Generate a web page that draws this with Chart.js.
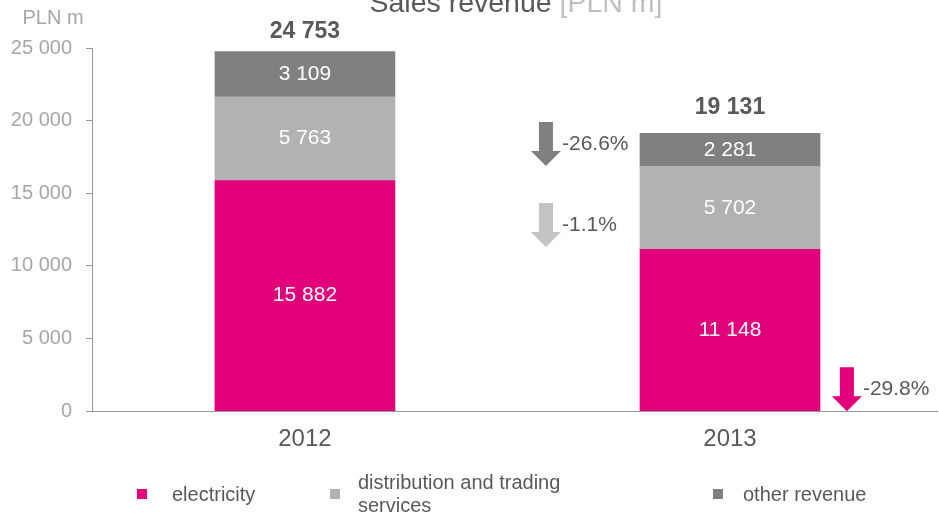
<!DOCTYPE html>
<html>
<head>
<meta charset="utf-8">
<script src="https://cdn.jsdelivr.net/npm/chart.js@4/dist/chart.umd.min.js"></script>
<style>
body { margin: 0; background: #fff; font-family: "Liberation Sans", Arial, sans-serif; }
#wrap { position: relative; width: 939px; height: 514px; overflow: hidden; }
#chart { position: absolute; left: 0; top: 0; }
.lg { position: absolute; font-size: 20px; color: #595959; line-height: 23px; }
.sw { position: absolute; width: 10px; height: 10px; }
</style>
</head>
<body>
<div id="wrap">
  <canvas id="chart" width="939" height="514"></canvas>
  <div class="sw" style="left:137px;top:489px;background:#e2007a"></div>
  <div class="lg" style="left:172px;top:483px">electricity</div>
  <div class="sw" style="left:330px;top:489px;background:#b2b2b2"></div>
  <div class="lg" style="left:358px;top:471px">distribution and trading<br>services</div>
  <div class="sw" style="left:713px;top:489px;background:#808080"></div>
  <div class="lg" style="left:743px;top:483px">other revenue</div>
</div>
<script>
// chart data
const years = ['2012', '2013'];
const electricity = [15882, 11148];
const distribution = [5763, 5702];
const otherRevenue = [3109, 2281];
const totals = [24753, 19131];
const changes = ['-29.8%', '-1.1%', '-26.6%'];
const yTicks = [0, 5000, 10000, 15000, 20000, 25000];

// arrow placement in axis units (x = category index, y = PLN m)
const arrows = [
  { x: 1.275, top: 3030, tip: 0, color: '#e2007a' },
  { x: 0.567, top: 14325, tip: 11295, color: '#c4c4c4' },
  { x: 0.567, top: 19904, tip: 16873, color: '#808080' }
];
// gap (px) between bar top and total label
const totalGap = [20, 26];

const fmt = v => String(v).replace(/\B(?=(\d{3})+(?!\d))/g, ' ');

function points(arr) {
  return arr.map((v, i) => ({ x: i, y: v }));
}

// labels, arrows, title
const extras = {
  id: 'extras',
  afterDatasetsDraw(chart) {
    const ctx = chart.ctx;
    const xs = chart.scales.x;
    const ys = chart.scales.y;
    ctx.save();

    // values inside segments
    ctx.fillStyle = '#fff';
    ctx.font = '21px "Liberation Sans", Arial, sans-serif';
    ctx.textAlign = 'center';
    ctx.textBaseline = 'middle';
    chart.data.datasets.forEach((ds, di) => {
      chart.getDatasetMeta(di).data.forEach((bar, i) => {
        const p = bar.getProps(['x', 'y', 'base'], true);
        ctx.fillText(fmt(ds.data[i].y), p.x, (p.y + p.base) / 2);
      });
    });

    // totals
    ctx.fillStyle = '#595959';
    ctx.font = 'bold 23px "Liberation Sans", Arial, sans-serif';
    totals.forEach((t, i) => {
      ctx.fillText(fmt(t), xs.getPixelForValue(i), ys.getPixelForValue(t) - totalGap[i]);
    });

    // change arrows
    ctx.font = '21px "Liberation Sans", Arial, sans-serif';
    ctx.textAlign = 'left';
    arrows.forEach((a, i) => {
      const cx = xs.getPixelForValue(a.x);
      const y0 = ys.getPixelForValue(a.top);
      const y1 = ys.getPixelForValue(a.tip);
      const head = 15;
      ctx.fillStyle = a.color;
      ctx.beginPath();
      ctx.moveTo(cx - 7, y0);
      ctx.lineTo(cx + 7, y0);
      ctx.lineTo(cx + 7, y1 - head);
      ctx.lineTo(cx + 15, y1 - head);
      ctx.lineTo(cx, y1);
      ctx.lineTo(cx - 15, y1 - head);
      ctx.lineTo(cx - 7, y1 - head);
      ctx.closePath();
      ctx.fill();
      ctx.fillStyle = '#595959';
      ctx.fillText(changes[i], cx + 16, (y0 + y1) / 2);
    });

    // unit label
    ctx.fillStyle = '#a6a6a6';
    ctx.font = '20px "Liberation Sans", Arial, sans-serif';
    ctx.textAlign = 'center';
    ctx.fillText('PLN m', 53, 18);

    // title, cut off by the top edge
    ctx.font = '28.5px "Liberation Sans", Arial, sans-serif';
    ctx.textBaseline = 'alphabetic';
    ctx.textAlign = 'left';
    const t1 = 'Sales revenue ';
    const t2 = '[PLN m]';
    const w1 = ctx.measureText(t1).width;
    const w2 = ctx.measureText(t2).width;
    const sx = 516 - (w1 + w2) / 2;
    ctx.fillStyle = '#595959';
    ctx.fillText(t1, sx, 12);
    ctx.fillStyle = '#bfbfbf';
    ctx.fillText(t2, sx + w1, 12);

    ctx.restore();
  }
};

new Chart(document.getElementById('chart'), {
  type: 'bar',
  data: {
    datasets: [
      { label: 'electricity', data: points(electricity), backgroundColor: '#e2007a' },
      { label: 'distribution and trading services', data: points(distribution), backgroundColor: '#b2b2b2' },
      { label: 'other revenue', data: points(otherRevenue), backgroundColor: '#808080' }
    ]
  },
  options: {
    responsive: false,
    animation: false,
    layout: { padding: { top: 48, left: 0, right: 2, bottom: 46 } },
    datasets: { bar: { barThickness: 180 } },
    plugins: { legend: { display: false }, tooltip: { enabled: false } },
    scales: {
      x: {
        type: 'linear',
        stacked: true,
        offset: false,
        min: -0.501,
        max: 1.487,
        afterBuildTicks: s => { s.ticks = years.map((y, i) => ({ value: i })); },
        grid: { display: false, drawTicks: false, offset: false },
        border: { display: true, color: '#999' },
        ticks: {
          padding: 14,
          color: '#595959',
          font: { size: 24, family: '"Liberation Sans", Arial, sans-serif' },
          callback: v => years[v]
        }
      },
      y: {
        stacked: true,
        min: 0,
        max: 25000,
        afterBuildTicks: s => { s.ticks = yTicks.map(v => ({ value: v })); },
        afterFit: s => { s.width = 92; },
        grid: { drawOnChartArea: false, drawTicks: true, tickLength: 6, color: '#999' },
        border: { display: true, color: '#999' },
        ticks: {
          padding: 14,
          color: '#a6a6a6',
          font: { size: 20, family: '"Liberation Sans", Arial, sans-serif' },
          callback: v => fmt(v)
        }
      }
    }
  },
  plugins: [extras]
});
</script>
</body>
</html>
